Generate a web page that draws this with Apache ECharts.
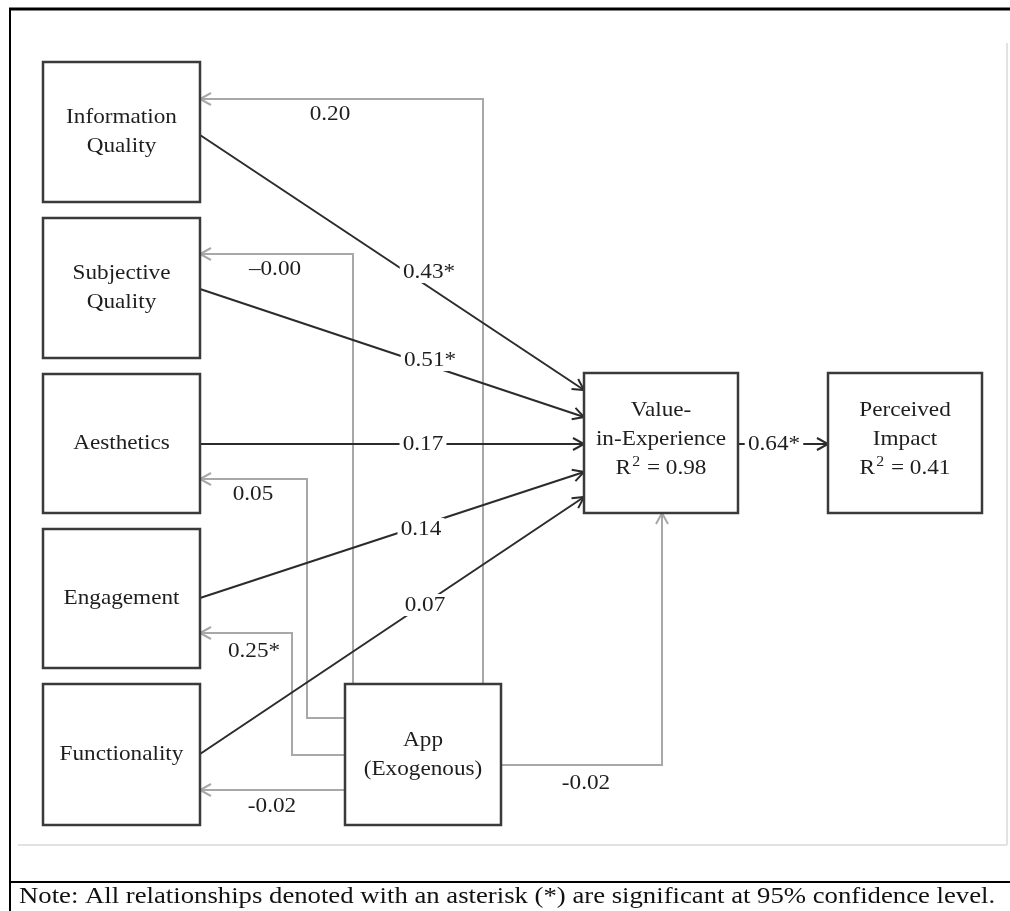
<!DOCTYPE html>
<html><head><meta charset="utf-8">
<script src="https://cdn.jsdelivr.net/npm/echarts@6/dist/echarts.min.js"></script>
<style>html,body{margin:0;padding:0;background:#fff}#c{width:1010px;height:911px}</style>
</head><body><div id="c"></div>
<script>
// ---------- content ----------
const constructs = ['Information\nQuality', 'Subjective\nQuality', 'Aesthetics', 'Engagement', 'Functionality'];
const appNode = 'App\n(Exogenous)';
const outcomeNames = ['Value-\nin-Experience', 'Perceived\nImpact'];
const outcomeR2 = ['0.98', '0.41'];
const pathCoefficients = ['0.43*', '0.51*', '0.17', '0.14', '0.07'];
const impactCoefficient = '0.64*';
const appCoefficients = ['0.20', '\u20130.00', '0.05', '0.25*', '-0.02'];
const appToValueCoefficient = '-0.02';
const noteText = 'Note: All relationships denoted with an asterisk (*) are significant at 95% confidence level.';

// ---------- layout (diagram units) ----------
const constructBoxes = [[43, 62, 200, 202], [43, 218, 200, 358], [43, 374, 200, 513], [43, 529, 200, 668], [43, 684, 200, 825]];
const appBox = [345, 684, 501, 825];
const outcomeBoxes = [[584, 373, 738, 513], [828, 373, 982, 513]];
const pathRoutes = [
  [[200, 135], [584, 390]],
  [[200, 289], [584, 417]],
  [[200, 444], [584, 444]],
  [[200, 598], [584, 472]],
  [[200, 754], [584, 497]]
];
const pathLabelPos = [[429, 272], [430, 360], [423, 444], [421, 529], [425, 605]];
const impactRoute = [[738, 444], [828, 444]];
const impactLabelPos = [774, 444];
const appRoutes = [
  [[483, 684], [483, 99], [200, 99]],
  [[353, 684], [353, 254], [200, 254]],
  [[345, 718], [307, 718], [307, 479], [200, 479]],
  [[345, 755], [292, 755], [292, 633], [200, 633]],
  [[345, 790], [200, 790]]
];
const appLabelPos = [[330, 114], [275, 269], [253, 494], [254, 651], [272, 806]];
const appToValueRoute = [[501, 765], [662, 765], [662, 513]];
const appToValueLabelPos = [586, 783];

// ---------- build ----------
const FONT = 'Liberation Serif';
const TEXT = '#1e1e1e';
const BLACK = '#2b2b2b';
const GRAY = '#a8a8a8';
const SX = 1.055;

const boxItems = [];
constructs.forEach((n, i) => boxItems.push({ name: n, box: constructBoxes[i] }));
boxItems.push({ name: appNode, box: appBox });
outcomeNames.forEach((n, i) => boxItems.push({ name: n, r2: outcomeR2[i], box: outcomeBoxes[i] }));

const edgeItems = [];
appCoefficients.forEach((c, i) => edgeItems.push({ label: c, route: appRoutes[i], lp: appLabelPos[i], color: GRAY, bg: false }));
edgeItems.push({ label: appToValueCoefficient, route: appToValueRoute, lp: appToValueLabelPos, color: GRAY, bg: false });
pathCoefficients.forEach((c, i) => edgeItems.push({ label: c, route: pathRoutes[i], lp: pathLabelPos[i], color: BLACK, bg: true }));
edgeItems.push({ label: impactCoefficient, route: impactRoute, lp: impactLabelPos, color: BLACK, bg: true });

function arrowHead(p, q, L, W) {
  const dx = p[0] - q[0], dy = p[1] - q[1];
  const len = Math.sqrt(dx * dx + dy * dy) || 1;
  const ux = dx / len, uy = dy / len;
  const nx = -uy, ny = ux;
  return [[p[0] - ux * L + nx * W, p[1] - uy * L + ny * W], p, [p[0] - ux * L - nx * W, p[1] - uy * L - ny * W]];
}

const chart = echarts.init(document.getElementById('c'), null, { renderer: 'canvas' });
chart.setOption({
  backgroundColor: '#fff',
  animation: false,
  grid: { left: 0, right: 0, top: 0, bottom: 0 },
  xAxis: { type: 'value', min: 0, max: 1010, show: false },
  yAxis: { type: 'value', min: 0, max: 911, inverse: true, show: false },
  graphic: [
    { type: 'line', shape: { x1: 1007, y1: 43, x2: 1007, y2: 845 }, style: { stroke: '#e2e2e2', lineWidth: 2 }, z: 1 },
    { type: 'line', shape: { x1: 18, y1: 845, x2: 1007, y2: 845 }, style: { stroke: '#e2e2e2', lineWidth: 2 }, z: 1 },
    { type: 'line', shape: { x1: 9, y1: 9, x2: 1010, y2: 9 }, style: { stroke: '#000', lineWidth: 3 }, z: 1 },
    { type: 'line', shape: { x1: 10, y1: 8, x2: 10, y2: 911 }, style: { stroke: '#000', lineWidth: 2 }, z: 1 },
    { type: 'line', shape: { x1: 9, y1: 882, x2: 1010, y2: 882 }, style: { stroke: '#000', lineWidth: 2 }, z: 1 },
    { type: 'text', x: 19, y: 897, scaleX: 1.113, style: { text: noteText, font: '24px "Liberation Serif"', fill: '#111', verticalAlign: 'middle' }, z: 1 }
  ],
  series: [
    {
      type: 'custom', name: 'edges', coordinateSystem: 'cartesian2d', z: 2,
      data: edgeItems.map((e, i) => [i]),
      renderItem: function (params, api) {
        const e = edgeItems[params.dataIndex];
        const pts = e.route.map(p => api.coord(p));
        const n = pts.length;
        const head = arrowHead(pts[n - 1], pts[n - 2], 11, 6);
        const lp = api.coord(e.lp);
        return {
          type: 'group', children: [
            { type: 'polyline', shape: { points: pts }, style: { stroke: e.color, lineWidth: 2, fill: null } },
            { type: 'polyline', shape: { points: head }, style: { stroke: e.color, lineWidth: 2, fill: null } },
            { type: 'text', x: lp[0], y: lp[1], scaleX: SX, z2: 10, style: {
              text: e.label, font: '22px "Liberation Serif"', fill: TEXT, align: 'center', verticalAlign: 'middle',
              backgroundColor: e.bg ? '#fff' : null, padding: e.bg ? [0, 3, 0, 3] : 0 } }
          ]
        };
      }
    },
    {
      type: 'custom', name: 'constructs', coordinateSystem: 'cartesian2d', z: 3,
      data: boxItems.map((b, i) => [i]),
      renderItem: function (params, api) {
        const b = boxItems[params.dataIndex];
        const p0 = api.coord([b.box[0], b.box[1]]);
        const p1 = api.coord([b.box[2], b.box[3]]);
        const cx = (p0[0] + p1[0]) / 2, cy = (p0[1] + p1[1]) / 2;
        const text = b.r2 ? b.name + '\nR{s|2} = ' + b.r2 : b.name;
        return {
          type: 'group', children: [
            { type: 'rect', shape: { x: p0[0], y: p0[1], width: p1[0] - p0[0], height: p1[1] - p0[1] },
              style: { fill: '#fff', stroke: '#3a3a3a', lineWidth: 2.5 } },
            { type: 'text', x: cx, y: cy - (b.r2 ? 4 : 0), scaleX: SX, style: {
              text: text, font: '22px "Liberation Serif"', fill: TEXT, align: 'center', verticalAlign: 'middle',
              lineHeight: 29,
              rich: { s: { fontSize: 15, fontFamily: FONT, fill: TEXT, verticalAlign: 'top', lineHeight: 15, padding: [1, 1, 0, 1] } } } }
          ]
        };
      }
    }
  ]
});
</script></body></html>
